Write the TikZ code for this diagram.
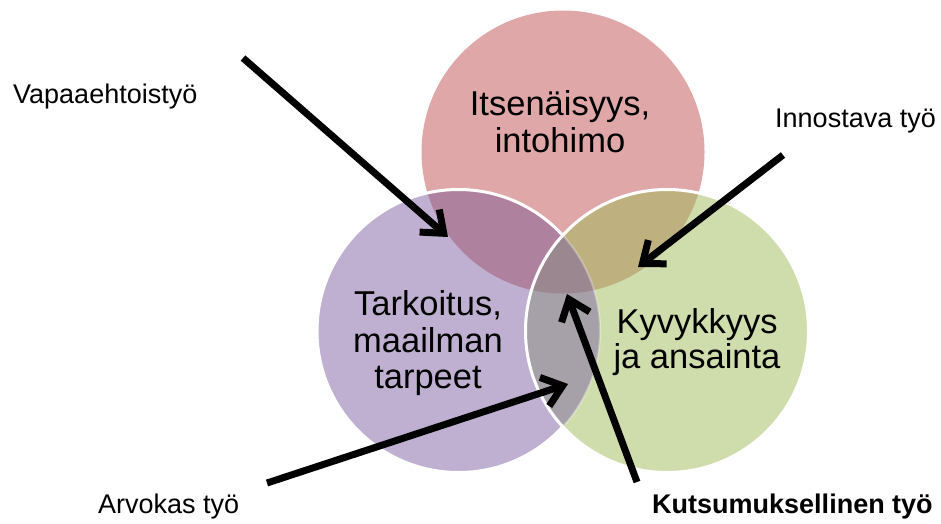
\documentclass[tikz,border=0pt]{standalone}
\usepackage{fontspec}
\setmainfont{Liberation Sans}
\usetikzlibrary{arrows.meta}
\definecolor{cR}{HTML}{DFA7A7}
\definecolor{cP}{HTML}{BFB0D1}
\definecolor{cG}{HTML}{CFDDAD}
\definecolor{cRP}{HTML}{AE829F}
\definecolor{cRG}{HTML}{BEB17F}
\definecolor{cPG}{HTML}{A6A0A8}
\definecolor{cRPG}{HTML}{9B8790}
\begin{document}
\begin{tikzpicture}[x=1pt,y=-1pt,
  lbl/.style={font=\fontsize{27}{32}\selectfont, anchor=base west, inner sep=0pt},
  ctext/.style={font=\fontsize{34.5}{40}\selectfont, anchor=base, inner sep=0pt},
  arr/.style={line width=7pt, -{Straight Barb[length=19pt,width=30pt]}},
  rim/.style={white, line width=3pt}]
\useasboundingbox (0,0) rectangle (941,523);
\def\myr{141.5}
\coordinate (R) at (563,152);
\coordinate (P) at (458.5,331);
\coordinate (G) at (667,331);
% circles
\fill[cR] (R) circle (\myr);
\fill[cP] (P) circle (\myr);
\begin{scope}
  \clip (R) circle (\myr);
  \fill[cRP] (P) circle (\myr);
\end{scope}
\draw[rim] (P) circle (\myr);
\fill[cG] (G) circle (\myr);
\begin{scope}
  \clip (G) circle (\myr);
  \fill[cRG] (R) circle (\myr);
  \fill[cPG] (P) circle (\myr);
  \clip (R) circle (\myr);
  \fill[cRPG] (P) circle (\myr);
\end{scope}
\begin{scope}
  \clip (G) circle (\myr);
  \draw[white, opacity=0.3, line width=2pt] (P) circle (\myr);
\end{scope}
\draw[rim] (G) circle (\myr);
% circle texts
\node[ctext] (r1) at (560,115) {Itsenäisyys,};
\node[ctext] (r2) at (560,152) {intohimo};
\node[ctext] (p1) at (428,315) {Tarkoitus,};
\node[ctext] (p2) at (428,352) {maailman};
\node[ctext] (p3) at (428,388) {tarpeet};
\node[ctext] (g1) at (697,333) {Kyvykkyys};
\node[ctext] (g2) at (697,368) {ja ansainta};
% labels
\node[lbl] (lv) at (13,103) {Vapaaehtoistyö};
\node[lbl] (li) at (775,127) {Innostava työ};
\node[lbl] (la) at (98,513) {Arvokas työ};
\node[lbl, font=\fontsize{27}{32}\selectfont\bfseries] (lk) at (652,513) {Kutsumuksellinen työ};
% arrows
\coordinate (v1) at (243,58);  \coordinate (v2) at (448,237);
\coordinate (i1) at (783,155); \coordinate (i2) at (638,267);
\coordinate (k1) at (637,482); \coordinate (k2) at (567,294);
\coordinate (a1) at (267,483); \coordinate (a2) at (568,384);
\draw[arr] (v1) -- (v2);
\draw[arr] (i1) -- (i2);
\draw[arr] (k1) -- (k2);
\draw[arr] (a1) -- (a2);
\end{tikzpicture}
\end{document}
